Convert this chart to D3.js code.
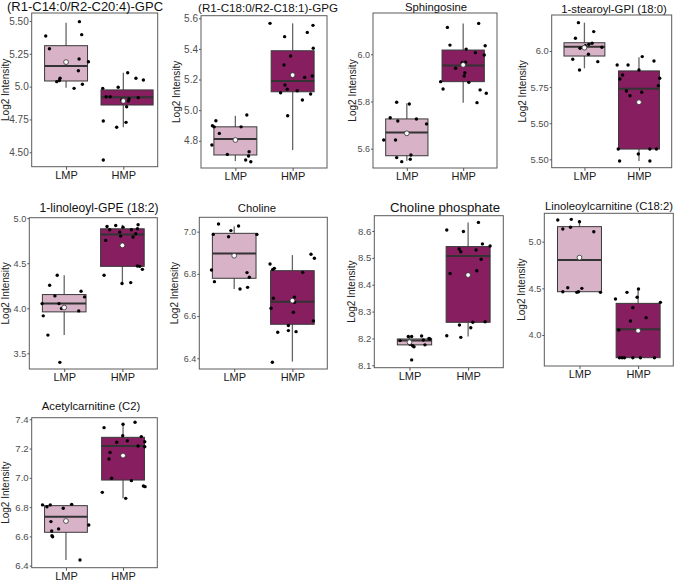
<!DOCTYPE html>
<html><head><meta charset="utf-8">
<script src="https://cdn.jsdelivr.net/npm/d3@7"></script>
<style>body{margin:0;background:#fff}svg{display:block}text{font-family:"Liberation Sans",Arial,sans-serif}</style>
</head><body>
<svg id="c" width="677" height="583"></svg>
<script>
const groups = ["LMP","HMP"];
const titles = ["(R1-C14:0/R2-C20:4)-GPC","(R1-C18:0/R2-C18:1)-GPG","Sphingosine","1-stearoyl-GPI (18:0)",
  "1-linoleoyl-GPE (18:2)","Choline","Choline phosphate","Linoleoylcarnitine (C18:2)","Acetylcarnitine (C2)"];
const yTicks = [[4.5,4.75,5.0,5.25,5.5],[4.8,5.0,5.2,5.4,5.6],[5.6,5.8,6.0],[5.25,5.5,5.75,6.0],
  [3.5,4.0,4.5,5.0],[6.4,6.6,6.8,7.0],[8.1,8.2,8.3,8.4,8.5,8.6],[4.0,4.5,5.0],[6.4,6.6,6.8,7.0,7.2,7.4]];
const yTickLabels = [["4.50","4.75","5.0","5.25","5.50"],["4.8","5.0","5.2","5.4","5.6"],["5.6","5.8","6.0"],
  ["5.50","5.50","5.75","6.0"],["3.5","4.0","4.5","5.0"],["6.4","6.6","6.8","7.0"],
  ["8.1","8.2","8.3","8.4","8.5","8.6"],["4.0","4.5","5.0"],["6.4","6.6","6.8","7.0","7.2","7.4"]];
const yDomains = [[4.39,5.561],[4.622,5.617],[5.518,6.175],[5.192,6.249],[3.326,5.005],[6.349,7.068],[8.091,8.657],[3.668,5.304],[6.386,7.411]];

// box stats per panel: [whiskerLow, q1, median, q3, whiskerHigh, mean]
const boxLMP = [[4.992,5.043,5.157,5.312,5.487,5.187],[4.667,4.707,4.811,4.891,4.963,4.805],[5.549,5.570,5.669,5.726,5.792,5.665],
  [5.880,5.965,6.030,6.057,6.196,6.023],[3.702,3.960,4.052,4.152,4.366,4.008],[6.728,6.779,6.897,6.992,7.024,6.886],
  [8.173,8.176,8.192,8.198,8.207,8.186],[4.464,4.464,4.804,5.161,5.232,4.829],[6.439,6.628,6.735,6.810,6.815,6.705]];
const boxHMP = [[4.690,4.860,4.919,4.975,5.106,4.891],[4.739,5.120,5.190,5.388,5.567,5.229],[5.795,5.884,5.952,6.018,6.131,5.955],
  [5.238,5.321,5.739,5.862,5.956,5.645],[4.274,4.465,4.819,4.882,4.926,4.698],[6.384,6.561,6.668,6.815,6.889,6.673],
  [8.207,8.260,8.507,8.542,8.632,8.436],[3.757,3.757,4.061,4.339,4.493,4.046],[6.860,6.985,7.218,7.277,7.37,7.152]];

// individual samples: values and horizontal jitter (category units)
const lmpVals = [
  [5.386,5.289,5.495,5.396,5.211,5.190,5.121,5.064,5.038,5.047,4.987,5.018],
  [4.898,4.931,4.891,4.848,4.968,4.891,4.772,4.711,4.728,4.700,4.674,4.663],
  [5.797,5.789,5.731,5.717,5.726,5.705,5.637,5.637,5.562,5.573,5.555,5.545],
  [6.196,6.134,6.088,6.053,6.046,6.037,6.019,6.026,5.977,5.943,5.926,5.868],
  [4.366,4.255,4.137,4.189,4.126,4.052,4.052,3.997,3.971,3.916,3.702,3.400],
  [7.036,7.027,7.005,6.987,6.976,6.987,6.818,6.763,6.806,6.784,6.728,6.736],
  [8.192,8.207,8.207,8.209,8.200,8.198,8.194,8.176,8.178,8.173,8.169,8.120],
  [5.232,5.239,5.214,5.136,5.154,5.107,4.507,4.500,4.464,4.457,4.464,4.457],
  [6.815,6.803,6.815,6.819,6.792,6.701,6.651,6.637,6.605,6.598,6.678,6.439]];
const lmpJit = [
  [-0.355,-0.29,0.233,0.273,0.227,0.39,0.215,-0.105,-0.163,-0.116,0.14,0.285],
  [-0.40,-0.34,-0.37,-0.28,0.2,0.1,-0.41,-0.14,0.24,0.23,0.18,0.27],
  [-0.18,0.044,-0.295,-0.16,0.17,0.35,-0.41,-0.2,-0.18,0.073,0.061,-0.09],
  [-0.11,0.17,-0.165,0.14,0.08,0.018,-0.08,0.32,0.073,-0.214,0.245,-0.09],
  [-0.12,-0.25,-0.16,0.29,0.35,-0.38,-0.09,-0.046,0.25,-0.36,-0.28,-0.075],
  [-0.27,0.075,-0.057,-0.36,-0.097,0.39,-0.39,-0.34,0.22,0.26,0.1,0.23],
  [-0.16,-0.02,0.037,0.207,0.332,0.35,0.236,0.264,0.009,0.054,0.077,0.037],
  [-0.37,-0.14,0,-0.284,-0.153,0.244,-0.2,0.04,-0.284,-0.045,-0.017,0.358],
  [-0.41,-0.333,-0.275,0.1,-0.047,-0.263,-0.129,-0.25,-0.246,-0.234,0.4,0.246]];
const hmpVals = [
  [4.987,4.923,4.923,4.995,5.106,5.064,5.051,4.916,4.906,4.891,4.847,4.898,4.738,4.690,4.728,4.441],
  [5.567,5.480,5.554,5.508,5.404,5.354,5.295,5.164,5.136,5.114,5.127,5.214,5.223,5.066,5.105,4.963],
  [6.114,6.131,6.039,6.036,6.022,6.007,5.997,5.964,5.966,5.941,5.922,5.908,5.884,5.881,5.853,5.849,5.835,5.795],
  [5.903,5.903,5.961,5.931,5.868,5.834,5.806,5.811,5.760,5.723,5.714,5.690,5.321,5.321,5.321,5.287,5.238,5.238],
  [4.908,4.871,4.919,4.900,4.926,4.882,4.871,4.845,4.801,4.790,4.827,4.753,4.469,4.465,4.432,4.366,4.274,4.285],
  [6.847,6.826,6.821,6.893,6.874,6.807,6.684,6.689,6.665,6.637,6.618,6.577,6.555,6.523,6.526,6.531,6.381],
  [8.604,8.598,8.632,8.533,8.523,8.529,8.552,8.544,8.495,8.442,8.452,8.250,8.260,8.240,8.262,8.210,8.204],
  [4.493,4.457,4.386,4.404,4.350,4.293,4.186,4.150,4.054,3.757,3.757,3.757,3.757,3.757,3.757],
  [7.366,7.380,7.343,7.288,7.254,7.243,7.282,7.247,7.218,7.213,7.174,7.129,6.997,6.981,6.944,6.940,6.901,6.860]];
const hmpJit = [
  [-0.36,-0.30,-0.23,-0.09,0.076,0.22,0.35,0.26,0.1,0.087,0.058,-0.03,-0.35,-0.116,0.047,-0.35],
  [-0.395,-0.14,0.355,0.256,0.36,-0.035,-0.15,-0.134,-0.093,-0.21,0.08,0.21,0.343,0.17,0.314,-0.087],
  [-0.28,0.275,-0.234,0.39,0.053,0.216,0.374,-0.018,0.04,-0.135,0.03,0.018,-0.4,0.1,-0.357,0.3,0.41,0.245],
  [-0.4,-0.2,0.06,0.275,0,-0.3,-0.35,0.38,0.355,-0.23,0.05,-0.165,-0.38,0.2,0.32,-0.012,-0.355,0.2],
  [-0.264,-0.218,-0.115,0.011,0.27,0.258,0.155,-0.046,-0.029,0.183,0.229,-0.287,0.258,0.298,0.344,-0.315,-0.006,0.143],
  [-0.384,-0.31,-0.338,0.32,0.378,0.178,-0.327,0.034,0.034,-0.367,0.017,0.361,-0.069,-0.252,0.063,-0.069,-0.344],
  [-0.364,-0.08,0.176,-0.153,-0.125,0.136,0.244,0.375,0.222,-0.307,0.148,-0.148,0.08,0.045,0.29,-0.364,-0.125],
  [0.006,-0.19,-0.386,-0.017,0.38,-0.09,0.136,-0.13,-0.33,-0.318,-0.273,-0.233,-0.09,0.04,0.278],
  [0,0.21,-0.333,-0.006,0.076,-0.111,0.32,0.38,0.263,0.38,-0.228,-0.246,-0.2,0.146,0.357,0.386,-0.363,0.047]];

const colors = {LMP:"#d8b2c7", HMP:"#861e60"};

// layout: plot rect [left, top, right, bottom], title x, title baseline, title size, y-label x, tick font size
const layout = [
  {r:[31.7,13,157.7,166.7], tx:85, ty:11, ts:13, lx:5, fs:10},
  {r:[201,15.7,327,168], tx:268, ty:11.5, ts:11.6, lx:176, fs:10},
  {r:[373,13,497,168], tx:436, ty:10.5, ts:11.3, lx:352, fs:9},
  {r:[551.7,15,671.7,167.7], tx:614, ty:13, ts:11.3, lx:522, fs:9.4},
  {r:[29.3,217.7,157.3,369], tx:99, ty:212, ts:12.1, lx:5, fs:9.2},
  {r:[199.3,217.3,327.3,369], tx:257, ty:212, ts:11.3, lx:174, fs:9},
  {r:[374.3,215.7,503.3,367.7], tx:445, ty:211.5, ts:13.2, lx:351, fs:9.6},
  {r:[544.3,213.3,673.3,366], tx:609, ty:209.5, ts:11.3, lx:521, fs:9.2},
  {r:[31.7,417.7,157.3,567.7], tx:91, ty:409.5, ts:11.3, lx:5, fs:9.6}];
// box horizontal extents (category units) where they differ from the default
const boxSpanDefault = [-0.375, 0.375];
const boxSpanOverride = {"0-HMP":[-0.39,0.52], "6-LMP":[-0.207,0.378]};

const svg = d3.select("#c");

layout.forEach((L, i) => {
  const [x0,y0,x1,y1] = L.r;
  const x = d3.scaleLinear().domain([0.4,2.6]).range([x0,x1]);
  const y = d3.scaleLinear().domain(yDomains[i]).range([y1,y0]);
  const g = svg.append("g");

  g.append("rect").attr("x",x0).attr("y",y0).attr("width",x1-x0).attr("height",y1-y0)
    .attr("fill","#fff").attr("stroke","#5a5a5a").attr("stroke-width",1);

  const ax = g.append("g").attr("transform",`translate(${x0},0)`)
    .call(d3.axisLeft(y).tickValues(yTicks[i]).tickSize(2).tickPadding(1)
      .tickFormat((d,k)=>yTickLabels[i][k]));
  ax.select(".domain").remove();
  ax.selectAll("line").attr("stroke","#555");
  ax.selectAll("text").attr("fill","#4d4d4d").style("font-size",L.fs+"px");

  const xa = g.append("g").attr("transform",`translate(0,${y1})`)
    .call(d3.axisBottom(x).tickValues([1,2]).tickSize(3).tickPadding(1.5).tickFormat((d)=>groups[d-1]));
  xa.select(".domain").remove();
  xa.selectAll("line").attr("stroke","#555");
  xa.selectAll("text").attr("fill","#1a1a1a").style("font-size","11px");

  g.append("text").attr("x",L.tx).attr("y",L.ty).attr("text-anchor","middle")
    .style("font-size",L.ts+"px").attr("fill","#111").text(titles[i]);
  g.append("text").attr("transform",`translate(${L.lx+4},${(y0+y1)/2}) rotate(-90)`)
    .attr("text-anchor","middle").style("font-size","10px").attr("fill","#222").text("Log2 Intensity");

  groups.forEach((grp, gi) => {
    const pos = gi+1;
    const b = (grp==="LMP"?boxLMP:boxHMP)[i];
    const span = boxSpanOverride[i+"-"+grp] || boxSpanDefault;
    const bx0 = x(pos+span[0]), bx1 = x(pos+span[1]);
    g.append("line").attr("x1",x(pos)).attr("x2",x(pos)).attr("y1",y(b[0])).attr("y2",y(b[4]))
      .attr("stroke","#666").attr("stroke-width",1.3);
    g.append("rect").attr("x",bx0).attr("width",bx1-bx0).attr("y",y(b[3])).attr("height",y(b[1])-y(b[3]))
      .attr("fill",colors[grp]).attr("stroke","#3a3a3a").attr("stroke-width",1);
    g.append("line").attr("x1",bx0).attr("x2",bx1).attr("y1",y(b[2])).attr("y2",y(b[2]))
      .attr("stroke","#333").attr("stroke-width",2);
    const vals = (grp==="LMP"?lmpVals:hmpVals)[i], jit = (grp==="LMP"?lmpJit:hmpJit)[i];
    g.selectAll(null).data(vals).enter().append("circle")
      .attr("cx",(d,k)=>x(pos+jit[k])).attr("cy",d=>y(d)).attr("r",1.7).attr("fill","#000");
    g.append("circle").attr("cx",x(pos)).attr("cy",y(b[5])).attr("r",2.4)
      .attr("fill","#fff").attr("stroke","#333").attr("stroke-width",0.8);
  });
});
</script>
</body></html>
